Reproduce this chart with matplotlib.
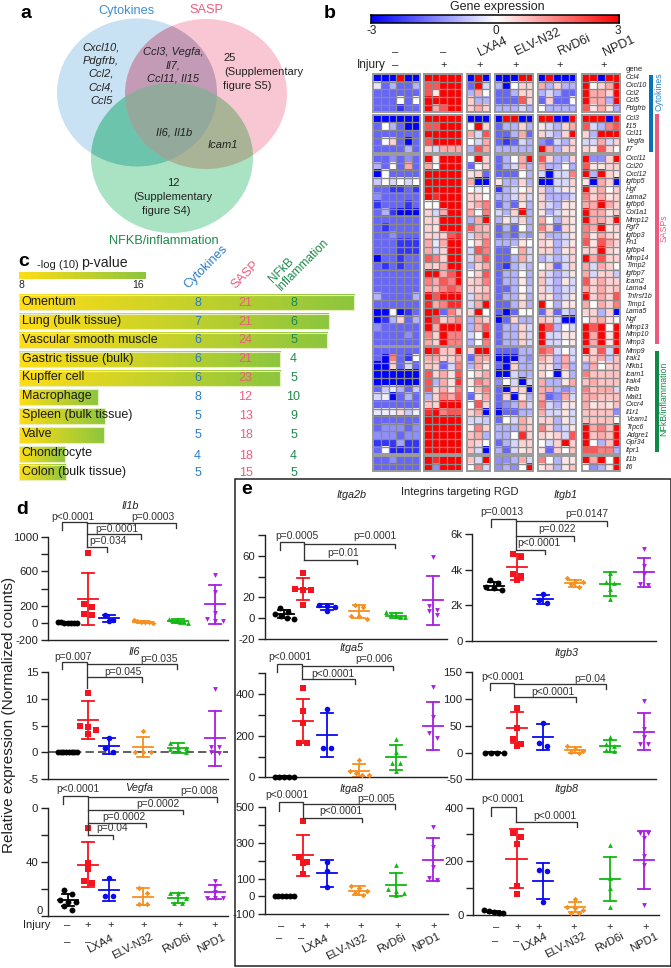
import numpy as np
import matplotlib
matplotlib.use('Agg')
import matplotlib.pyplot as plt
from matplotlib.colors import LinearSegmentedColormap
from matplotlib.patches import Ellipse, Polygon, Rectangle

plt.rcParams['font.family'] = ['Liberation Sans', 'DejaVu Sans']

W, H = 671, 968
DARK = '#222222'
BLUE_T = '#2a7cc7'
PINK_T = '#ee5c80'
GREEN_T = '#1c8a4c'

# ---- panel c data
tissues = ['Omentum', 'Lung (bulk tissue)', 'Vascular smooth muscle', 'Gastric tissue (bulk)',
           'Kupffer cell', 'Macrophage', 'Spleen (bulk tissue)', 'Valve', 'Chondrocyte',
           'Colon (bulk tissue)']
tissue_logp = [29.05, 27.45, 27.35, 24.4, 24.4, 12.95, 13.4, 13.35, 10.9, 10.95]
tissue_cyt = [8, 7, 6, 6, 6, 8, 5, 5, 4, 5]
tissue_sasp = [21, 21, 24, 21, 23, 12, 13, 18, 18, 15]
tissue_nfkb = [8, 6, 5, 4, 5, 10, 9, 5, 4, 5]

# ---- panel b data, columns: control(6) injury(5) LXA4(3) ELV-N32(5) RvD6i(5) NPD1(5)
genes_1 = ['Ccl4', 'Cxcl10', 'Ccl2', 'Ccl5', 'Pdgfrb']
heat_1 = [
    [-3, -3, -3, 3, -3, -3, 3, 3, 3, 3, 3, -3, 3, -3, -3, -3, -3, 3, 3, -3, 3, -3, -3, -3, 3, 3, -3, 3, 3],
    [-.3, -2, -1, -2, -2, -1, 2, 2, 3, 3, 3, -2, 3, -.5, -1, -3, 0, .5, .5, 1, -1, .5, -1, -1, 3, 0, .5, 1, 3],
    [-2, -2, -2, -2, -2, -2, 2, .3, 3, 3, 3, -1, 1, 0, -2, -2, -1, .5, .5, -1, -.5, -1, -2, -2, 3, 1, 1, .5, 3],
    [-2, -2, -2, 0, -2, 0, 3, 3, 3, 3, 3, .5, -1, -1, -2, -2, -2, 2, .5, -2, .5, -2, -2, 0, 3, 1, 1, -1, 3],
    [-2, -2, -2, -2.5, -2, -2, 3, 1, 2, 3, 3, .5, 1, .5, -1, -1, -1, -.5, -1, 0, -1, -1, -1, -1, 2, .3, 1, .3, -1],
]
genes_2 = ['Ccl3', 'Il15', 'Ccl11', 'Vegfa', 'Il7']
heat_2 = [
    [-3, -3, -3, -3, -3, -3, 3, 3, 3, 3, 3, -3, -3, -3, -3, 3, 3, -3, -3, 3, 3, -3, -3, 3, 3, 3, 3, -3, 3],
    [-2, 0, -1, -2, -3, -3, 2, 2, 3, 3, 3, 0, 3, .5, -2, -1, -1, .5, -1, .3, -.5, -1, .5, 1, 2, -.5, -1, 1.5, 2],
    [-2, -2, -2, -2, -2, -2, 3, 3, 3, 3, 3, 1, -.5, 2, -2, -2, -1, 1, -2, .5, -.5, -1, .5, 3, .5, -1, 3, 3, 3],
    [-2, 0, .5, -2, -3, -2, 2, 3, 3, 3, 3, 0, -.5, 1, -2, -2.5, -2, -.5, -1, -1.5, -2, -.5, -1, .5, -.5, -.5, 1, -.5, .5],
    [-2, -2, -2, -2, -1, -2, .5, -.5, 1, 1, 1, -1, 2, 1, -1, -1, -1, -1, -1, 3, 1, -1, .5, .5, .5, .3, 2, .5, 0],
]
genes_3 = ['Cxcl11', 'Ccl20', 'Cxcl12', 'Igfbp5', 'Hgf', 'Lama2', 'Igfbp6', 'Col1a1', 'Mmp12', 'Fgf7',
           'Igfbp3', 'Fn1', 'Igfbp4', 'Mmp14', 'Timp2', 'Igfbp7', 'Icam2', 'Lama4', 'Tnfrsf1b', 'Timp1',
           'Lama5', 'Ngf', 'Mmp13', 'Mmp10', 'Mmp3']
heat_3 = [
    [-2, -2, -1.5, -2, -1.5, -2, 3, .3, 3, 3, 3, 0, 3, .5, -2, -1, 0, 1, 3, 2, .5, -1, -1, .5, 3, -1.5, -1.5, .5, 3],
    [-1, -2, 0, -2, 1, -2, 1, 0, 3, 3, 3, -2, 0, .5, -2, -1, -.5, 1, -1, 1, -1, -1, 0, -1, 2, .3, .3, .5, .5],
    [-3, 0, -2, -2, -2, -2, 3, 3, 3, 3, 3, .3, .5, -2, -2, -2, -2, 0, -1, -.5, -3, -.5, -.5, 1.5, 3, -1, 3, .5, .3],
    [-.7, 0, -.5, 0, -.5, 0, 3, 3, 3, 3, 3, 1, -3, -3, .3, -1, -1, .5, -1, -3, -3, -.5, -.5, .5, .3, -3, 1, .5, -3],
    [-2, -2, -2.5, -2.5, -2, -2.5, 3, 3, 3, 3, 3, 0, -.3, 0, -2.5, -1, -.5, 0, .5, .5, -1, -.5, .3, .3, 3, .5, 1, 0, .5],
    [-1.5, -2, -2, -2, -2, -2, 3, 2.5, 3, 3, 3, .5, .5, 0, -1, -1, -.5, .5, -.5, .5, -1, -1, -1, -.5, 1.5, .5, 1, .3, .5],
    [-2.5, -2, -2, -2, -2.5, -2, 0, 0, 3, 3, 3, .5, 1, 1.5, -2, -1, -2, .3, -1, .5, -.5, -1, .3, .3, 1, 1, 3, 1, .5],
    [-2, -1, -2.5, -3, -3, -3, .5, -.5, 1, 3, 3, 1, 0, 1.5, -.5, -1, .5, 3, -1, .3, -1, -.5, .3, .3, 3, 1, 1, .3, .5],
    [-2, -2, -2, -2, -2, -2, .5, .5, 3, 3, 3, -1, 1, 3, -1, .3, -.5, .5, -1, 1, 0, -1, .5, .3, 3, 1, 1, .5, 3],
    [-2, -2.5, -2, -2, -2, -2, .5, .3, 3, 3, 3, 2, 1, .8, -2, -1, -2, 0, -1, 1.5, .5, -2, .5, .3, 1.5, 1, 3, .3, .5],
    [-2, -2, -1.5, -2, -2, -2, .5, .5, .5, 2, 2.5, -.5, 1, 1, -2, -1.5, -2, -1, -1.5, .5, -1, -1, -.5, .3, 1.5, .3, 1, .5, .3],
    [-2, -2, -2, -2.5, -2.5, -2.5, 1, -.3, 1, 3, 3, 0, .5, 1.5, -1, -1, -1, .3, 0, .5, .3, -1, -.5, .3, 2, .3, 2, 1, .5],
    [-2, -2, -2, -2.5, -2.5, -2.5, 1, -.5, .5, 3, 3, -.5, 2, 1.5, -2, -2, 0, 1, -.5, .5, .5, -1, .3, .5, .5, .5, 3, .5, .3],
    [-3, -2, -2, -2.5, -2, -2, 2, 1.5, .5, 3, 3, -.5, 1, 2, -2, -2, -1, 1, -.5, -1, -.5, -1, -.5, .5, 3, 1, 2, .5, .5],
    [-2, -2.5, -2, -2.5, -2, -2, .7, .5, 1, 3, 3, -1, .5, 1, -2, -2.5, -1, -.5, -1, 0, .5, -2, -.5, .5, 1, -.5, 1, .5, 0],
    [-2, -2, -2, -2, -2, -2, 3, 3, 1, 2, 3, 0, .5, 2, -2, -1, -1, 0, -1, .5, -.5, -1, -.5, .3, 1, -.5, .5, .5, -.7],
    [-2, -2, -2, -2, -2, -2, 1.5, 1, 2, 1.5, 3, .5, .7, 1.5, -2, -1, -1, .3, -1, .7, -.5, -1, .3, -.5, 2, .5, 1, .5, .5],
    [-2, -2, -2, -2, -2, -2, 1, .8, 1.5, 2, 1.5, .5, .5, .7, -2, -2, -1, 0, -.7, .5, -.5, -1, -.5, -.5, 1, .5, 1, .5, .7],
    [-1, -2, -2, -2, -2, -1, 3, 2, 3, 3, 3, -.5, .8, 1, -2, -1, -1, .3, -1, .5, .3, -1, -.5, .3, 3, .5, 1, .5, 2],
    [-2, -2, -2, -2, -2, -2, 2.5, 1, 1.5, 2.5, 2.5, -.5, 1, 3, -2, -2, -1, .5, -1, 3, 0, -1, .3, .3, 1, 0, 1, .5, 1.5],
    [-3, -3, 0, -3, -2.5, -2, 3, 3, -2, 1.5, .5, .5, 3, 0, -2, -3, -2, 0, 0, -2, .5, -2, -.5, -1, .5, .5, -1, .5, -3],
    [-3, -2.5, -1, .5, -2, -1, 3, 2, .5, 1, 1.5, -1, 1, .5, -3, -2, .5, -1, -1, .7, .5, -.5, -3, -3, 0, .7, 1, .3, 0],
    [-1.5, -2, -2, -2, -2, -2, 3, 1, 3, 3, 3, -1, 1, 2, -2, -1, -1, .5, -.5, 3, 2, -1, 0, -.5, 3, 2, 3, 0, 3],
    [-2, -2, -2, -2, -1.5, -2, 1.5, .5, 3, 1.5, 1.5, -.5, 0, 3, -2, -1, -1, .5, -.5, 3, -.5, -.5, .3, .3, 3, 1, 3, .3, 3],
    [-2, -2, -2, -2, -2, -2, 1, .5, 3, 1.5, 1.5, -1, 0, 1.5, -2, -1, -1, .5, -.5, 3, -.5, -.5, 0, .3, 3, 1, 3, .3, 3],
]
genes_4 = ['Mmp9', 'Irak1', 'Nfkb1', 'Icam1', 'Irak4', 'Relb', 'Malt1', 'Cxcr4', 'Il1r1', 'Vcam1', 'Trpc6',
           'Adgre1', 'Gpr34', 'Itpr1']
heat_4 = [
    [-2, -2, -2, -2, -2, -2, 3, 2.5, .7, .7, 3, .5, 3, 3, -2, -2, -2, -1, -1, 2, 1.5, -.5, 0, -.5, 3, .5, 2, -.5, 3],
    [-2, -3, 1.5, -2, -2.5, 0, 1, 1, .5, .5, 1, -2, 1, 1, -3, -3, -3, -1, -1.5, 1, .5, -1, 1, -.5, .5, .7, 1, -.7, .7],
    [-3, -3, .5, -2, -.5, -2, .7, .5, -2, -.5, 1.5, -1, 1, .3, -2, -3, .5, -1, -1, .5, .3, -1, 1, -1, -1, 1, 0, .5, .7],
    [-3, -3, -3, -3, -3, -3, 2, .5, 1, .3, 2, 0, .5, 1, -3, -3, -.5, -1, -1, .5, 0, -3, .3, -1, 1.5, .7, .7, .7, .7],
    [-3, -3, -3, -3, -3, -3, 2, -1, 1, .3, 2.5, .3, 1.5, 1, -1.5, 0, -.5, -3, -.5, 1, -1, -1, .3, 1, .7, 1, .7, .7, .7],
    [-2, -.7, -.3, -1, -2, -.7, 2, .5, 1, .3, 1.5, 0, .8, 1.5, -2, -3, .5, .5, -3, 1, 1, -1, -1.5, -1, 1.5, .7, 1, 1, -.5],
    [-.5, -.2, -3, -2, -1, -2, -1, .5, 1.5, 1, 2, -2, .3, 1, -2, .5, -3, .3, -1, 1, -2, -1.5, 1, -.5, 1, 1, .7, .7, .7],
    [-2, -2, -2, -2, -2, -2, .7, .5, 3, 3, 3, 0, 2, .5, -2, -1.5, -1, 1, -.5, 1.5, -.5, -1, .3, .3, 1, .3, .5, .3, .7],
    [-.3, -.2, -.2, .4, -.7, -.2, 2.5, 3, 1.5, 2, 2, .5, 1, -3, -3, -2, -2, -1, -1, 1, -.5, -.5, .3, -.5, .7, .7, .7, .7, -1.5],
    [-2, -2, -2, -2, -2, -2, 3, 3, 3, 3, 3, -.5, -.5, -.7, -2, 0, -.5, 1, .5, .5, .5, -1, .3, -.5, .7, .7, .7, .7, 0],
    [-2, -1.5, -1.5, -1.5, -2, -1.5, 3, 3, 3, 3, 3, .2, 1.5, .5, -1, -1, -1, 1, .5, 1.5, .5, -1, -.5, .3, 3, 1, 1.5, .7, 3],
    [-1.5, -1.5, -1.5, -2, -1.5, -1.5, 3, 3, 3, 3, 3, .7, 1, -1, -1, -1, 0, 2.5, .5, .5, .3, .5, -.5, 2, 3, .7, 1, .7, 3],
    [-2.5, -2.5, -2.5, -1.2, -2.5, -2.5, 3, 3, 3, 3, 3, .7, .5, 0, -2, -1, -.5, .5, .5, 0, -.5, .5, 3, .5, 3, 0, -1, .7, 3],
    [-2, 0, -2.7, -2.7, -2.5, -2.5, 3, 3, 3, 3, 3, .7, -.5, -3, -1, -2, -.5, .3, .5, .3, -2, .5, 0, .7, 2, 2, 1.5, 1.5, -1],
]
genes_5 = ['Il1b', 'Il6']
heat_5 = [
    [-2, -2, -1.5, -2, -2, -2, 3, 2.5, 3, 3, 3, .7, -.5, 3, -1.5, -1.5, -1, 1, -.5, 1.5, 0, -1, .3, .3, 3, 1, 3, 0, 3],
    [-2, -2, -2, -2, -2, -2, 3, -1.5, 3, 3, 3, 0, 1.5, -.5, -1.5, -1, -1.5, 0, 3, .3, .5, -1, .3, .7, 0, -1.5, -1, .3, 3],
]
group_sizes = [6, 5, 3, 5, 5, 5]

# ---- panels d and e data, groups: control, injury, LXA4, ELV-N32, RvD6i, NPD1
il1b_mean = [5, 280, 53, 15, 22, 215]
il1b_sd = [2, 303, 38, 10, 22, 230]
il1b_pts = [[2, 3, 4, 5, 6, 7, 8], [815, 215, 185, 100, 90], [95, 40, 25], [5, 8, 10, 15, 20, 30],
            [5, 10, 15, 20, 30, 50], [560, 355, 115, 46, 20, 20]]
il6_mean = [0, 6.0, 1.2, 1.0, .8, 2.65]
il6_sd = [0, 3.5, 1.5, 1.85, 1.0, 5.1]
il6_pts = [[0, 0, 0, 0, 0, 0, 0, 0], [11.1, 5, 4.8, 4.2, 3.5], [2.6, .8, 0], [4, 0, 0, 0],
           [1.8, 1, .9, .7, .5, .1], [11.8, 1, 1, 0, -.1]]
vegfa_mean = [11.4, 38, 18.8, 14, 13.4, 17.6]
vegfa_sd = [4.5, 16.6, 8, 6.3, 3.8, 5.5]
vegfa_pts = [[19, 16, 11.6, 10, 10.4, 7, 4.2], [65, 39, 34.6, 26, 24], [28, 15, 14.6], [20.5, 17, 8.4, 8.4],
             [16.6, 16.6, 13, 9.6, 9.6], [26, 22, 17.6, 12.9, 12.9, 12.9]]

itga2b_mean = [3.5, 28, 10.7, 6.5, 2, 17]
itga2b_sd = [3.8, 11, 2.9, 6.1, 2.4, 24]
itga2b_pts = [[10, 6, 4, 2, 0, -.5], [43.5, 28, 27, 27, 12.7], [12.3, 11.7, 11, 6.8], [13, 10.7, 2, 2, -.6],
              [5.8, 3.5, 2, 1, 1], [59, 11.7, 7.8, 6.8, 2.6]]
itga5_mean = [3, 270, 205, 32, 96, 248]
itga5_sd = [2, 107, 106, 32, 61, 116]
itga5_pts = [[3, 3, 3, 3, 3], [430, 320, 260, 167, 167], [326, 142, 142], [85, 32, 19, 11, 11],
             [182, 120, 70, 70, 30], [435, 288, 211, 187]]
itga8_mean = [2, 231, 130, 33, 67, 207]
itga8_sd = [3, 115, 75, 26, 66, 123]
itga8_pts = [[0, 1, 2, 3, 4, 2], [423, 220, 194, 190, 127], [196, 145, 52], [56, 50, 28, 19, 9],
             [177, 41, 33, 19, 6], [388, 278, 166, 103, 93]]
itgb1_mean = [3075, 4140, 2325, 3225, 3190, 3840]
itgb1_sd = [205, 725, 250, 215, 655, 820]
itgb1_pts = [[3410, 3220, 3040, 2950, 2850], [4900, 4730, 3730, 3640, 3410], [2600, 2270, 2140],
             [3540, 3320, 3280, 3190, 3020], [3790, 3320, 3225, 2900, 2340], [5130, 4220, 3730, 3190, 3130]]
itgb3_mean = [0, 46, 29, 4, 12, 39]
itgb3_sd = [.5, 29, 25, 5.5, 11.5, 34]
itgb3_pts = [[0, 0, 0, 0], [84, 46, 25, 16, 13], [55, 18, 12], [12, 6, 3, 1, 0], [29, 16, 12, 4, 3],
             [96, 44, 29, 16, 15]]
itgb8_mean = [10, 210, 126, 30, 135, 204]
itgb8_sd = [4, 110, 68, 19, 82, 108]
itgb8_pts = [[18, 13, 10, 8, 5], [307, 292, 266, 109, 77], [167, 164, 49], [57, 30, 24, 18, 8, 8],
             [260, 137, 101, 30], [305, 305, 286, 220, 186, 35]]

group_colors = ['black', '#f5141e', '#0a0aee', '#f7901e', '#12b812', '#a81fe0']
group_markers = ['o', 's', 'o', 'D', '^', 'v']
marker_sizes = [18, 14, 16, 8, 12, 12]
d_x = [67.5, 87.5, 109, 143, 178, 215]
e1_x = [284, 302.7, 326.7, 359.3, 395.7, 432.7]
e2_x = [494, 516.5, 543, 575, 610, 644]

fig = plt.figure(figsize=(W / 100, H / 100), dpi=100)


def px_axes(x0, y0, x1, y1, **kw):
    return fig.add_axes([x0 / W, 1 - y1 / H, (x1 - x0) / W, (y1 - y0) / H], **kw)


# overlay for text, brackets and the venn shapes, in pixels
ov = px_axes(0, 0, W, H, zorder=5)
ov.set_xlim(0, W)
ov.set_ylim(H, 0)
ov.axis('off')
ov.patch.set_alpha(0)


def txt(x, y, s, size=8, color=DARK, ha='center', va='center', **kw):
    ov.text(x, y, s, fontsize=size, color=color, ha=ha, va=va, **kw)


# ---- panel a
blue_e = dict(xy=(137, 92.5), width=160, height=148)
pink_e = dict(xy=(206, 94), width=162, height=150)
green_e = dict(xy=(172, 158), width=162, height=150)
for e, c in [(blue_e, '#c9e2f3'), (pink_e, '#f9c7d3'), (green_e, '#aae3c3')]:
    ov.add_patch(Ellipse(color=c, lw=0, **e))


def clipped(a, b, color):
    clip = Ellipse(fill=False, lw=0, **b)
    ov.add_patch(clip)
    p = Ellipse(color=color, lw=0, **a)
    ov.add_patch(p)
    p.set_clip_path(clip)


clipped(blue_e, pink_e, '#c39bb7')
clipped(blue_e, green_e, '#6cc4ad')
clipped(pink_e, green_e, '#a9b497')


def outline(e, n=400):
    t = np.linspace(0, 2 * np.pi, n)
    return np.c_[e['xy'][0] + e['width'] / 2 * np.cos(t), e['xy'][1] + e['height'] / 2 * np.sin(t)]


def inside(p, e):
    return ((p[:, 0] - e['xy'][0]) / (e['width'] / 2)) ** 2 + ((p[:, 1] - e['xy'][1]) / (e['height'] / 2)) ** 2 < 1


a_pts, b_pts = outline(blue_e), outline(pink_e)
lens = np.r_[a_pts[inside(a_pts, pink_e)], b_pts[inside(b_pts, blue_e)]]
lens = lens[np.argsort(np.arctan2(*(lens - lens.mean(axis=0)).T))]
clip3 = Ellipse(fill=False, lw=0, **green_e)
ov.add_patch(clip3)
tri = Polygon(lens, closed=True, color='#93a99c', lw=0)
ov.add_patch(tri)
tri.set_clip_path(clip3)

txt(26, 13, 'a', 14, 'black', weight='bold')
txt(330, 13, 'b', 14, 'black', weight='bold')
txt(126.7, 10.7, 'Cytokines', 9.2, '#3d8fd0')
txt(206.7, 10, 'SASP', 9.2, PINK_T)
txt(163.5, 241.5, 'NFKB/inflammation', 9.2, GREEN_T)
for x, y, s in [(303, 142, 'Cxcl10,'), (303, 183, 'Pdgfrb,'), (304, 222, 'Ccl2,'), (304, 264, 'Ccl4,'),
                (304, 304, 'Ccl5'), (520, 155, 'Ccl3, Vegfa,'), (520, 195, 'Il7,'), (520, 236, 'Ccl11, Il15'),
                (522, 398, 'Il6, Il1b'), (668, 436, 'Icam1')]:
    txt(x / 3, y / 3, s, 8, style='italic')
for x, y, s in [(688, 173, '25'), (790, 216, '(Supplementary'), (743, 257, 'figure S5)'), (520, 550, '12'),
                (518, 592, '(Supplementary'), (500, 632, 'figure S4)')]:
    txt(x / 3, y / 3, s, 8)

# ---- panel c
grad = np.linspace(0, 1, 256).reshape(1, -1)
bar_cmap = LinearSegmentedColormap.from_list('yg', ['#ffdd15', '#8cc63f'])
cax = px_axes(19, 272, 146, 279)
cax.imshow(grad, cmap=bar_cmap, aspect='auto')
cax.axis('off')

bax = px_axes(19, 293.2, 354.5, 482.2)
bax.axis('off')
for i, v in enumerate(tissue_logp):
    bax.imshow(grad, cmap=bar_cmap, aspect='auto', extent=(8, v, i + .41, i - .41))
    bax.add_patch(Rectangle((8, i - .41), v - 8, .82, fill=False, ec='#e7eec0', lw=.8))
    y = 293.2 + 18.9 * (i + .5)
    lx = 21 if tissues[i] == 'Chondrocyte' else 21.7
    txt(lx, y - .8, tissues[i], 9, '#1a1a1a', ha='left')
    off = 2 if tissues[i] == 'Chondrocyte' else 0
    txt(197.5, y + off, str(tissue_cyt[i]), 9, BLUE_T)
    txt(245.5, y + off, str(tissue_sasp[i]), 9, PINK_T)
    txt(293.5, y + off, str(tissue_nfkb[i]), 9, GREEN_T)
bax.set_xlim(8, 29.07)
bax.set_ylim(9.5, -0.5)

txt(18, 262, 'c', 14, 'black', ha='left', weight='bold')
txt(37, 265.5, '-log (10)', 8, ha='left')
txt(81, 263.5, 'p-value', 10.2, ha='left')
txt(21, 285, '8', 7.5)
txt(138, 284.5, '16', 7.5)
txt(190, 291, 'Cytokines', 9.2, BLUE_T, ha='left', va='bottom', rotation=45, rotation_mode='anchor')
txt(238, 291, 'SASP', 9.2, PINK_T, ha='left', va='bottom', rotation=45, rotation_mode='anchor')
txt(283, 293, 'NFkB\nInflammation', 8.6, GREEN_T, ha='left', va='bottom', rotation=45, rotation_mode='anchor',
    linespacing=.95)

# ---- panel b
heat_cmap = LinearSegmentedColormap.from_list('bwr2', [(0, '#0000ff'), (1 / 6, '#6868ff'), (.5, '#ffffff'),
                                                       (1, '#ff0000')])
group_x = [373.3, 424, 466.7, 494.7, 537.7, 581.7]
block_y = [74, 114.7, 155, 347.3, 456]
col_w, row_h = 7.7, 7.65
for genes, heat, y0 in zip([genes_1, genes_2, genes_3, genes_4, genes_5],
                           [heat_1, heat_2, heat_3, heat_4, heat_5], block_y):
    arr = np.array(heat, dtype=float)
    start = 0
    for gx, n in zip(group_x, group_sizes):
        a = px_axes(gx, y0, gx + n * col_w, y0 + len(genes) * row_h)
        a.imshow(arr[:, start:start + n], cmap=heat_cmap, vmin=-3, vmax=3, aspect='auto', interpolation='nearest',
                 extent=(0, n, len(genes), 0))
        a.vlines(np.arange(1, n), 0, len(genes), color='#8a8a8a', lw=.95)
        a.hlines(np.arange(1, len(genes)), 0, n, color='#8a8a8a', lw=.95)
        a.set_xlim(0, n)
        a.set_ylim(len(genes), 0)
        a.set_xticks([])
        a.set_yticks([])
        for s in a.spines.values():
            s.set_color('#9a9a9a')
            s.set_linewidth(1.4)
        start += n
    for i, g in enumerate(genes):
        txt(626, y0 + row_h * (i + .5), g, 5, ha='left', style='italic')

kax = px_axes(370.7, 15, 618.7, 22.7)
kax.imshow(grad, cmap=LinearSegmentedColormap.from_list('bwr3', ['#0000ff', '#ffffff', '#ff0000']), aspect='auto')
kax.set_xticks([])
kax.set_yticks([])
for s in kax.spines.values():
    s.set_linewidth(1.1)
txt(497.7, 6.7, 'Gene expression', 9)
txt(372, 31.5, '-3', 8.5)
txt(495.5, 30.7, '0', 8.5)
txt(617.7, 30.7, '3', 8.5)
txt(371, 65, 'Injury', 8.5)
txt(395, 51.7, '–', 8)
txt(443.5, 51.7, '–', 8)
for x, s in zip([395, 443.7, 479.3, 516, 559.3, 604], ['–', '+', '+', '+', '+', '+']):
    txt(x, 65, s, 8)
for x, y, s in [(481, 59, 'LXA4'), (518, 58, 'ELV-N32'), (561, 58, 'RvD6i'), (606, 59, 'NPD1')]:
    txt(x, y, s, 9, ha='left', va='bottom', rotation=25, rotation_mode='anchor')
txt(626, 69.5, 'gene', 5.5, ha='left')
ov.add_patch(Rectangle((649.3, 75), 3.5, 77.3, color='#0a70b8', lw=0))
ov.add_patch(Rectangle((655.3, 114), 3.7, 230.3, color='#ee5a7e', lw=0))
ov.add_patch(Rectangle((655.3, 350.7), 3.2, 101, color='#0d8a45', lw=0))
txt(658.5, 92, 'Cytokines', 6.3, '#2a8ad0', rotation=90)
txt(664, 228, 'SASPs', 6.3, PINK_T, rotation=90)
txt(664, 399, 'NFkB/inflammation', 6.3, GREEN_T, rotation=90)


# ---- panels d and e
def swarm(values, px_per_unit, gap=5.0):
    # points closer than gap pixels share a row and spread around the centre
    order = np.argsort(values)[::-1]
    off = np.zeros(len(values))
    row = [order[0]]
    rows = [row]
    for k in order[1:]:
        if abs(values[row[0]] - values[k]) * px_per_unit < gap:
            row.append(k)
        else:
            row = [k]
            rows.append(row)
    for row in rows:
        n = len(row)
        if n > 1:
            d = min(8.0, 19.0 / (n - 1))
            off[row] = (np.arange(n) - (n - 1) / 2) * d
    return off


def dot_panel(box, ylim, yticks, ylabels, xpos, means, sds, pts):
    a = px_axes(*box)
    a.set_xlim(box[0], box[2])
    a.set_ylim(*ylim)
    ppu = (box[3] - box[1]) / (ylim[1] - ylim[0])
    for j, x in enumerate(xpos):
        c = group_colors[j]
        m, sd = means[j], sds[j]
        a.plot([x - 10, x + 10], [m, m], color=c, lw=1.3, clip_on=False)
        a.plot([x, x], [m - sd, m + sd], color=c, lw=1.3, clip_on=False)
        a.plot([x - 6, x + 6], [m + sd, m + sd], color=c, lw=1.3, clip_on=False)
        a.plot([x - 6, x + 6], [m - sd, m - sd], color=c, lw=1.3, clip_on=False)
        vals = np.array(pts[j], dtype=float)
        a.scatter(x + swarm(vals, ppu), vals, s=marker_sizes[j], marker=group_markers[j], color=c, lw=0,
                  zorder=4, clip_on=False)
    a.spines['top'].set_visible(False)
    a.spines['right'].set_visible(False)
    for s in ['left', 'bottom']:
        a.spines[s].set_linewidth(1.0)
        a.spines[s].set_color(DARK)
    a.set_xticks([])
    a.set_yticks(yticks)
    a.set_yticklabels(ylabels, fontsize=8.2, color=DARK)
    a.tick_params(axis='y', length=5, width=1.0, pad=2, color=DARK)
    a.patch.set_alpha(0)
    return a


dot_panel((48, 536.7, 228, 640.3), (-200, 1000), [-200, 0, 200, 400, 600, 800, 1000],
          ['-200', '0', '200', '', '600', '', '1000'], d_x, il1b_mean, il1b_sd, il1b_pts)
a6 = dot_panel((48, 671.7, 228, 779.3), (-5, 15), [-5, 0, 5, 10, 15], ['-5', '0', '5', '10', '15'],
               d_x, il6_mean, il6_sd, il6_pts)
a6.axhline(0, color='#444444', lw=1.2, dashes=(5, 2.5), zorder=1)
dot_panel((48, 808, 228, 915.7), (0, 80), [0, 20, 40, 60, 80], ['', '', '40', '', '0'],
          d_x, vegfa_mean, vegfa_sd, vegfa_pts)
txt(42.5, 911, '0', 8.2, ha='right')

dot_panel((264.7, 535.3, 446.7, 638.7), (-20, 80), [-20, 0, 20, 40, 60, 80], ['-20', '0', '20', '', '60', ''],
          e1_x, itga2b_mean, itga2b_sd, itga2b_pts)
dot_panel((264.7, 673.3, 446.7, 777.3), (0, 500), [0, 100, 200, 300, 400, 500], ['0', '', '200', '', '400', ''],
          e1_x, itga5_mean, itga5_sd, itga5_pts)
dot_panel((264.7, 807.3, 448, 914.3), (-100, 500), [-100, 0, 100, 200, 300, 400, 500],
          ['-100', '0', '100', '', '300', '', '500'], e1_x, itga8_mean, itga8_sd, itga8_pts)
dot_panel((472.3, 534, 656, 640.7), (0, 6000), [0, 2000, 4000, 6000], ['0', '2k', '4k', '6k'],
          e2_x, itgb1_mean, itgb1_sd, itgb1_pts)
dot_panel((472.3, 672.2, 656, 779.3), (-50, 150), [-50, 0, 50, 100, 150], ['-50', '0', '50', '100', '150'],
          e2_x, itgb3_mean, itgb3_sd, itgb3_pts)
dot_panel((473.3, 807.7, 659, 914.7), (0, 400), [0, 100, 200, 300, 400], ['0', '', '200', '', '400'],
          e2_x, itgb8_mean, itgb8_sd, itgb8_pts)


def bracket(ox, oy, ctrl_x, ctrl_drop, top, red_x, stem, lines, labels):
    """lengths are in 3x zoom units, ox and oy give the origin in pixels"""
    def L(xs, ys):
        ov.plot([ox + v / 3 for v in xs], [oy + v / 3 for v in ys], color='#333333', lw=.95, solid_joinstyle='miter')
    L([ctrl_x, ctrl_x, red_x, red_x], [ctrl_drop, top, top, stem])
    for y, xe, ye in lines:
        L([red_x, xe, xe], [y, y, ye])
    for x, y, s in labels:
        txt(ox + x / 3, oy + y / 3, s, 7.4, '#333333')


bracket(0, 480, 187, 150, 127, 262, 202, [(129, 528, 143), (162, 422, 178), (202, 322, 215)],
        [(218, 110, 'p<0.0001'), (458, 112, 'p=0.0003'), (352, 148, 'p=0.0001'), (324, 183, 'p=0.034')])
bracket(0, 480, 187, 567, 545, 262, 625, [(553, 530, 567), (592, 425, 606)],
        [(220, 530, 'p=0.007'), (476, 538, 'p=0.035'), (369, 575, 'p=0.045')])
bracket(0, 720, 190, 252, 227, 265, 345, [(231, 652, 246), (270, 548, 283), (308, 437, 322), (345, 340, 358)],
        [(233, 208, 'p<0.0001'), (596, 214, 'p=0.008'), (475, 251, 'p=0.0002'), (372, 290, 'p=0.0002'),
         (335, 325, 'p=0.04')])
bracket(230, 475, 149, 225, 202, 223, 254, [(206, 495, 220), (254, 382, 268)],
        [(200, 184, 'p=0.0005'), (436, 184, 'p=0.0001'), (338, 234, 'p=0.01')])
bracket(230, 475, 141, 590, 566, 216, 613, [(572, 489, 586), (613, 375, 628)],
        [(180, 546, 'p<0.0001'), (432, 553, 'p=0.006'), (310, 597, 'p<0.0001')])
bracket(230, 720, 146, 272, 247, 219, 293, [(253, 494, 268), (293, 397, 307)],
        [(170, 224, 'p<0.0001'), (438, 236, 'p=0.005'), (333, 273, 'p<0.0001')])
bracket(450, 475, 123, 155, 133, 197, 225, [(139, 470, 153), (183, 372, 197), (225, 286, 238)],
        [(155, 112, 'p=0.0013'), (410, 118, 'p=0.0147'), (320, 163, 'p=0.022'), (268, 205, 'p<0.0001')])
bracket(450, 475, 120, 645, 623, 193, 667, [(628, 467, 642), (667, 378, 681)],
        [(160, 605, 'p<0.0001'), (420, 611, 'p=0.04'), (310, 650, 'p<0.0001')])
bracket(450, 720, 123, 287, 262, 197, 307, [(307, 382, 322)],
        [(160, 238, 'p<0.0001'), (315, 288, 'p<0.0001')])

# titles and panel frame
for x, y, s in [(392 / 3, 480 + 78 / 3, 'Il1b'), (403 / 3, 480 + 515 / 3, 'Il6'), (417 / 3, 720 + 204 / 3, 'Vegfa'),
                (230 + 365 / 3, 475 + 60 / 3, 'Itga2b'), (230 + 365 / 3, 475 + 520 / 3, 'Itga5'),
                (230 + 366 / 3, 720 + 207 / 3, 'Itga8'), (450 + 347 / 3, 475 + 60 / 3, 'Itgb1'),
                (450 + 350 / 3, 475 + 535 / 3, 'Itgb3'), (450 + 350 / 3, 720 + 208 / 3, 'Itgb8')]:
    txt(x, y, s, 7.8, style='italic')
txt(68 / 3, 480 + 88 / 3, 'd', 14, 'black', weight='bold')
txt(230 + 50 / 3, 475 + 43 / 3, 'e', 14, 'black', weight='bold')
txt(460, 491.7, 'Integrins targeting RGD', 8)
txt(9, 714.5, 'Relative expression (Normalized counts)', 11.1, rotation=90)
ov.add_patch(Rectangle((234.5, 479), 436, 487, fill=False, ec='#222222', lw=1.1))

# injury rows under the bottom plots
rows = [(925, 942, [67.5, 88, 111, 144, 180, 215], [67, 88],
         [(90, 955, 'LXA4'), (115, 961, 'ELV-N32'), (165, 955, 'RvD6i'), (200, 955, 'NPD1')]),
        (925.7, 938, [280.7, 302.7, 326.7, 360.7, 398, 434], [279, 301],
         [(304.7, 955, 'LXA4'), (329, 961.7, 'ELV-N32'), (379.7, 955, 'RvD6i'), (414.7, 954, 'NPD1')]),
        (927, 940.7, [495.7, 517.7, 539, 574, 610, 646], [495, 516],
         [(523.7, 953, 'LXA4'), (548, 960, 'ELV-N32'), (598, 954, 'RvD6i'), (633, 954, 'NPD1')])]
for y1, y2, xs, xs2, names in rows:
    for x, s in zip(xs, ['–', '+', '+', '+', '+', '+']):
        txt(x, y1, s, 8)
    for x in xs2:
        txt(x, y2, '–', 8)
    for x, y, s in names:
        txt(x, y, s, 8.2, ha='left', va='bottom', rotation=27, rotation_mode='anchor')
txt(37, 925, 'Injury', 8)

fig.savefig('out.png', dpi=100)
